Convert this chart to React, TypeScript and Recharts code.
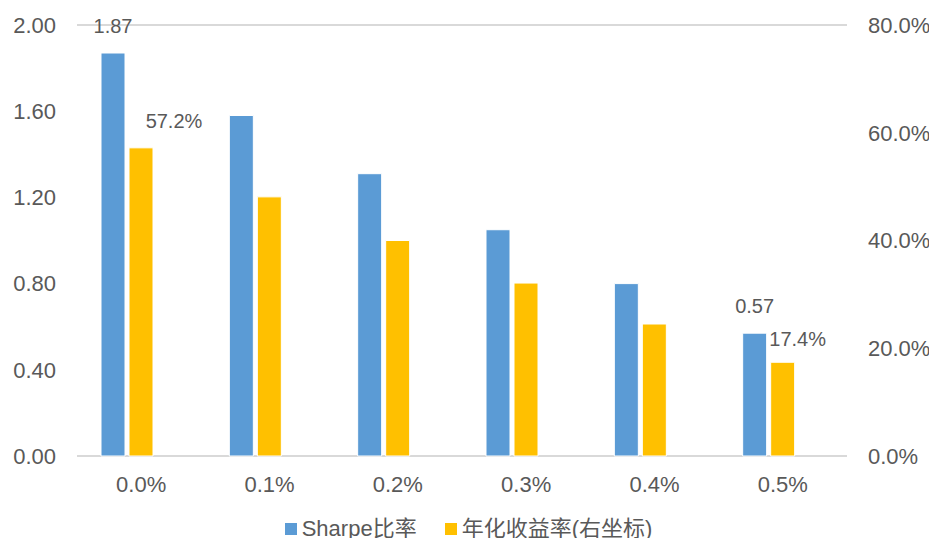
import {
  BarChart,
  Bar,
  XAxis,
  YAxis,
  CartesianGrid,
  Legend,
  LabelList,
} from 'recharts';

const categories = ['0.0%', '0.1%', '0.2%', '0.3%', '0.4%', '0.5%'];
const sharpe = [1.87, 1.58, 1.31, 1.05, 0.8, 0.57];
const annualReturn = [57.2, 48.1, 40.0, 32.1, 24.5, 17.4];
const leftTicks = [0, 0.4, 0.8, 1.2, 1.6, 2.0];
const rightTicks = [0, 20, 40, 60, 80];

const data = categories.map((name, i) => ({
  name,
  sharpe: sharpe[i],
  annualReturn: annualReturn[i],
}));

const TEXT = '#595959';
const FONT = '"Liberation Sans", "Noto Sans CJK SC", sans-serif';
const BLUE = '#5B9BD5';
const GOLD = '#FFC000';

// only the first and last groups carry value labels
const isLabelled = (index: number) => index === 0 || index === categories.length - 1;

const SharpeLabel = (props: any) => {
  const { x, y, width, value, index } = props;
  if (!isLabelled(index)) return null;
  return (
    <text x={x + width / 2} y={y - 20} textAnchor="middle" fill={TEXT} fontSize={20} fontFamily={FONT}>
      {Number(value).toFixed(2)}
    </text>
  );
};

const returnOffsets: Record<number, [number, number]> = { 0: [33, 20], 5: [15, 16] };

const ReturnLabel = (props: any) => {
  const { x, y, width, value, index } = props;
  if (!isLabelled(index)) return null;
  const [dx, dy] = returnOffsets[index] || [0, 8];
  return (
    <text x={x + width / 2 + dx} y={y - dy} textAnchor="middle" fill={TEXT} fontSize={20} fontFamily={FONT}>
      {Number(value).toFixed(1)}%
    </text>
  );
};

const LegendContent = (props: any) => {
  const items = (props.payload || []).filter((p: any) => p.type !== 'none');
  return (
    <div style={{ display: 'flex', justifyContent: 'center', gap: 28, fontFamily: FONT, fontSize: 22, lineHeight: '26px', color: TEXT }}>
      {items.map((p: any) => (
        <div key={p.value} style={{ display: 'flex', alignItems: 'center', gap: 5 }}>
          <span style={{ width: 12, height: 12, background: p.color, display: 'inline-block' }} />
          <span>{p.value}</span>
        </div>
      ))}
    </div>
  );
};

export default function App() {
  return (
    <div style={{ margin: -8, width: 937, height: 546, background: '#fff', overflow: 'hidden' }}>
      <BarChart
        width={937}
        height={546}
        data={data}
        margin={{ top: 25, right: 0, left: 0, bottom: 0 }}
        barSize={24}
        barGap={4}
      >
        <CartesianGrid vertical={false} stroke="#D9D9D9" strokeWidth={2} />
        <XAxis
          dataKey="name"
          axisLine={false}
          tickLine={false}
          tickSize={0}
          tickMargin={20}
          height={64}
          tick={{ fill: TEXT, fontSize: 22, fontFamily: FONT }}
        />
        <YAxis
          yAxisId="left"
          domain={[0, 2]}
          ticks={leftTicks}
          width={77}
          axisLine={false}
          tickLine={false}
          tickSize={0}
          tickMargin={21}
          tickFormatter={(v: number) => v.toFixed(2)}
          tick={{ fill: TEXT, fontSize: 22, fontFamily: FONT }}
        />
        <YAxis
          yAxisId="right"
          orientation="right"
          domain={[0, 80]}
          ticks={rightTicks}
          width={90}
          axisLine={false}
          tickLine={false}
          tickSize={0}
          tickMargin={21}
          tickFormatter={(v: number) => `${v.toFixed(1)}%`}
          tick={{ fill: TEXT, fontSize: 22, fontFamily: FONT, textAnchor: 'start' }}
        />
        <Legend
          content={<LegendContent />}
          wrapperStyle={{ position: 'absolute', top: 516, left: 0, width: 937 }}
        />
        <Bar yAxisId="left" dataKey="sharpe" name="Sharpe比率" fill={BLUE} stroke="#fff" strokeWidth={1} isAnimationActive={false}>
          <LabelList dataKey="sharpe" content={<SharpeLabel />} />
        </Bar>
        <Bar yAxisId="right" dataKey="annualReturn" name="年化收益率(右坐标)" fill={GOLD} stroke="#fff" strokeWidth={1} isAnimationActive={false}>
          <LabelList dataKey="annualReturn" content={<ReturnLabel />} />
        </Bar>
        {/* empty third slot keeps the pair left of the category centre */}
        <Bar yAxisId="left" dataKey="spacer" legendType="none" fill="none" isAnimationActive={false} />
      </BarChart>
    </div>
  );
}
